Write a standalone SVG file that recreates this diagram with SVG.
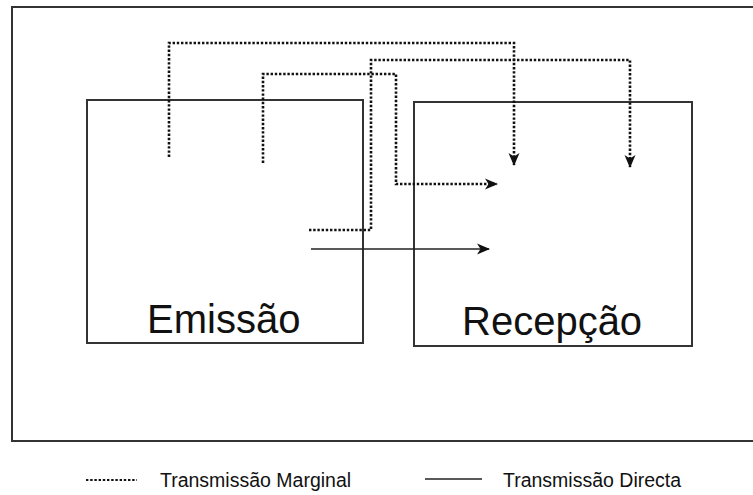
<svg xmlns="http://www.w3.org/2000/svg" width="753" height="495" viewBox="0 0 753 495">
<defs>
<style>
.frame{fill:none;stroke:#333;stroke-width:2}
.box{fill:none;stroke:#333;stroke-width:2}
.dot{fill:none;stroke:#111;stroke-width:2.6;stroke-dasharray:2.4 1.8}
.solid{fill:none;stroke:#222;stroke-width:1.6}
.lbl{font-family:"Liberation Sans",Arial,sans-serif;fill:#111}
.big{font-size:40px}
.leg{font-size:19.5px}
</style>
<marker id="ah" markerUnits="userSpaceOnUse" markerWidth="14" markerHeight="12" viewBox="0 0 14 12" refX="12" refY="6" orient="auto">
<path d="M0,0.5 L13,6 L0,11.5 L3.5,6 z" fill="#111"/>
</marker>
</defs>
<rect class="frame" x="12" y="7" width="760" height="434"/>
<g id="emissao">
<rect class="box" x="87" y="100" width="276" height="243"/>
<text class="lbl big" x="147" y="333">Emissão</text>
</g>
<g id="recepcao">
<rect class="box" x="414" y="102" width="278" height="244"/>
<text class="lbl big" x="462" y="335">Recepção</text>
</g>
<g id="connectors">
<path class="dot" d="M169,157 V43 H514 V165" marker-end="url(#ah)"/>
<path class="dot" d="M263,163 V74 H396 V184 H497" marker-end="url(#ah)"/>
<path class="dot" d="M309,230 H371 V60 H630 V167" marker-end="url(#ah)"/>
<path class="solid" d="M311,249 H489" marker-end="url(#ah)"/>
</g>
<g id="legend">
<path class="dot" d="M86,480 H137" style="stroke-width:2.2"/>
<text class="lbl leg" x="160" y="487">Transmissão Marginal</text>
<path class="solid" d="M425,479 H482"/>
<text class="lbl leg" x="503" y="487">Transmissão Directa</text>
</g>
</svg>
